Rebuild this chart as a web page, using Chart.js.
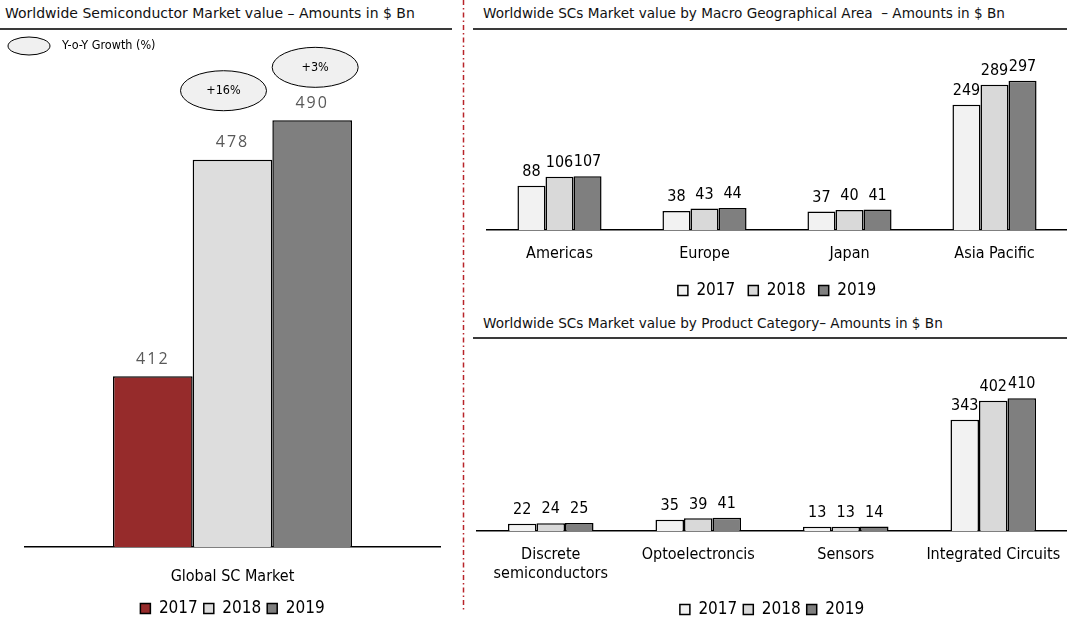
<!DOCTYPE html>
<html>
<head>
<meta charset="utf-8">
<script src="https://cdn.jsdelivr.net/npm/chart.js@4.4.1/dist/chart.umd.min.js"></script>
<style>
  body { margin: 0; width: 1067px; height: 622px; position: relative; background: #fff; overflow: hidden;
         font-family: "DejaVu Sans Condensed", "DejaVu Sans", sans-serif; }
  .title { position: absolute; font-family: "DejaVu Sans", sans-serif; font-size: 14px; color: #111; white-space: nowrap; }
  .title.small { font-size: 13.6px; }
  .rule { position: absolute; height: 2px; background: #3a3a3a; }
  canvas { position: absolute; }
</style>
</head>
<body>
<div class="title" style="left:5px;top:5px">Worldwide Semiconductor Market value – Amounts in $ Bn</div>
<div class="rule" style="left:0;top:28px;width:452px"></div>
<div class="title small" style="left:483px;top:5px">Worldwide SCs Market value by Macro Geographical Area &nbsp;– Amounts in $ Bn</div>
<div class="rule" style="left:473px;top:28px;width:594px"></div>
<div class="title small" style="left:483px;top:315px">Worldwide SCs Market value by Product Category– Amounts in $ Bn</div>
<div class="rule" style="left:473px;top:337px;width:594px"></div>
<svg style="position:absolute;left:458px;top:0" width="10" height="622">
  <line x1="5.5" y1="0" x2="5.5" y2="610" stroke="#b8242a" stroke-width="1.5" stroke-dasharray="5,3,1.5,3"/>
</svg>

<canvas id="globalChart" width="460" height="592" style="left:0;top:35px"></canvas>
<canvas id="areaChart" width="594" height="280" style="left:473px;top:29px"></canvas>
<canvas id="productChart" width="594" height="282" style="left:473px;top:346px"></canvas>

<script>
// Data
const years = ["2017", "2018", "2019"];
const globalLabels = ["Global SC Market"];
const globalValues = [412, 478, 490];
const growthLabels = ["", "+16%", "+3%"];

const areaLabels = ["Americas", "Europe", "Japan", "Asia Pacific"];
const area2017 = [88, 38, 37, 249];
const area2018 = [106, 43, 40, 289];
const area2019 = [107, 44, 41, 297];

const productLabels = [["Discrete", "semiconductors"], "Optoelectroncis", "Sensors", "Integrated Circuits"];
const product2017 = [22, 35, 13, 343];
const product2018 = [24, 39, 13, 402];
const product2019 = [25, 41, 14, 410];

const FONT = "'DejaVu Sans Condensed', 'DejaVu Sans', sans-serif";
Chart.defaults.font.family = FONT;
Chart.defaults.color = "#000";

// ::::: value labels above each bar :::::
const valueLabels = {
    id: "valueLabels",
    afterDatasetsDraw(chart, args, opts) {
        const ctx = chart.ctx;
        ctx.save();
        ctx.font = opts.font;
        ctx.fillStyle = opts.color;
        ctx.textAlign = "center";
        ctx.textBaseline = "bottom";
        if (opts.spacing) ctx.letterSpacing = opts.spacing;
        chart.data.datasets.forEach((ds, i) => {
            chart.getDatasetMeta(i).data.forEach((bar, j) => {
                ctx.fillText(ds.data[j], bar.x, bar.y - opts.offset);
            });
        });
        ctx.restore();
    }
};

// ::::: growth ellipses for the left chart :::::
const growthBubbles = {
    id: "growthBubbles",
    afterDatasetsDraw(chart, args, opts) {
        const ctx = chart.ctx;
        ctx.save();
        function ellipse(x, y, rx, ry) {
            ctx.beginPath();
            ctx.ellipse(x, y, rx, ry, 0, 0, Math.PI * 2);
            ctx.fillStyle = "#f0f0f0";
            ctx.fill();
            ctx.lineWidth = 1;
            ctx.strokeStyle = "#000";
            ctx.stroke();
        }
        // key
        ellipse(29, 11, 21, 9);
        ctx.fillStyle = "#000";
        ctx.font = "12.5px " + FONT;
        ctx.textBaseline = "middle";
        ctx.fillText("Y-o-Y Growth (%)", 62, 11);
        // one bubble over each bar that has a growth value
        ctx.textAlign = "center";
        growthLabels.forEach((txt, i) => {
            if (!txt) return;
            const bar = chart.getDatasetMeta(i).data[0];
            const cx = bar.x + opts.dx[i];
            const cy = bar.y - opts.lift[i];
            ellipse(cx, cy, 43, 20);
            ctx.fillStyle = "#000";
            ctx.fillText(txt, cx, cy);
        });
        ctx.restore();
    }
};

// THE GRAPHS
// ::::: Global market :::::
new Chart(document.getElementById("globalChart"), {
    type: "bar",
    data: {
        labels: globalLabels,
        datasets: years.map((y, i) => ({
            label: y,
            data: [globalValues[i]],
            backgroundColor: ["#962b2b", "#dddddd", "#7f7f7f"][i],
            borderColor: "#000",
            borderWidth: 1.5
        }))
    },
    options: {
        responsive: false,
        animation: false,
        categoryPercentage: 0.576,
        barPercentage: 1,
        layout: { padding: { left: 25, right: 20, bottom: 0 } },
        scales: {
            x: {
                grid: { display: false },
                border: { color: "#000", width: 1.5 },
                ticks: { font: { size: 16 }, padding: 12 },
                afterFit: (scale) => { scale.height = 47; }
            },
            y: { display: false, min: 360, max: 516 }
        },
        plugins: {
            legend: {
                position: "bottom",
                labels: { boxWidth: 10, boxHeight: 10, font: { size: 17 }, padding: 6 }
            },
            tooltip: { enabled: false },
            valueLabels: { font: "16px 'Open Sans'", color: "#595959", offset: 9, spacing: "2px" },
            growthBubbles: { dx: [0, -9, 3], lift: [0, 69, 53] }
        }
    },
    plugins: [valueLabels, growthBubbles]
});

// ::::: grouped charts on the right :::::
function groupedChart(id, labels, series, max, padLeft, axisHeight, legendPad) {
    return new Chart(document.getElementById(id), {
        type: "bar",
        data: {
            labels: labels,
            datasets: years.map((y, i) => ({
                label: y,
                data: series[i],
                backgroundColor: ["#f2f2f2", "#d9d9d9", "#7f7f7f"][i],
                borderColor: "#000",
                borderWidth: 1.5
            }))
        },
        options: {
            responsive: false,
            animation: false,
            categoryPercentage: 0.58,
            barPercentage: 1,
            layout: { padding: { left: padLeft, right: 0, top: 10 } },
            scales: {
                x: {
                    grid: { display: false },
                    border: { color: "#000", width: 1.5 },
                    ticks: { font: { size: 16 }, padding: 6, maxRotation: 0, autoSkip: false },
                    afterFit: (scale) => { scale.height = axisHeight; }
                },
                y: { display: false, min: 0, max: max }
            },
            plugins: {
                legend: {
                    position: "bottom",
                    labels: { boxWidth: 10, boxHeight: 10, font: { size: 17 }, padding: legendPad }
                },
                tooltip: { enabled: false },
                valueLabels: { font: "16px " + FONT, color: "#000", offset: 6 }
            }
        },
        plugins: [valueLabels]
    });
}

groupedChart("areaChart", areaLabels, [area2017, area2018, area2019], 380, 14, 39, 13);
groupedChart("productChart", productLabels, [product2017, product2018, product2019], 540, 4, 64, 6);
</script>
</body>
</html>
